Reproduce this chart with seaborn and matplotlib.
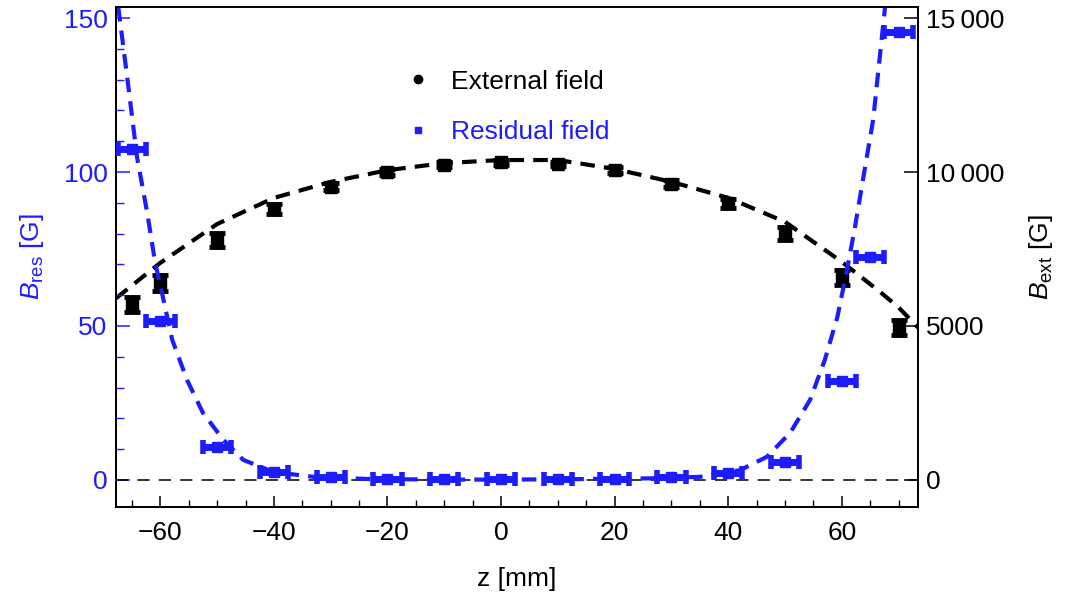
import numpy as np
import pandas as pd
import matplotlib
matplotlib.use("Agg")
import matplotlib.pyplot as plt
from matplotlib.lines import Line2D
from matplotlib.ticker import MultipleLocator, FixedLocator, FuncFormatter
import seaborn as sns

# ---------------- data ----------------
z_ext = [-65, -60, -50, -40, -30, -20, -10, 0, 10, 20, 30, 40, 50, 60, 70]
b_ext = [5700, 6400, 7790, 8800, 9520, 10000, 10230, 10320, 10260, 10060, 9620, 8990, 8000, 6580, 4960]
b_ext_err = [250, 250, 220, 150, 120, 100, 80, 80, 80, 100, 120, 150, 220, 250, 250]

z_res = [-65, -60, -50, -40, -30, -20, -10, 0, 10, 20, 30, 40, 50, 60, 65, 70]
b_res = [107.5, 51.5, 10.7, 2.6, 1.0, 0.3, 0.2, 0.2, 0.2, 0.3, 0.8, 2.2, 5.8, 32.0, 72.5, 145.5]
z_res_err = [2.5] * len(z_res)

# fitted curves
zf_ext = [-67.8, -60, -50, -40, -30, -20, -10, 0, 10, 20, 30, 40, 50, 60, 66.7, 70, 73.4]
bf_ext = [5900, 7050, 8310, 9160, 9680, 10060, 10290, 10390, 10390, 10100, 9680, 9160, 8380, 7080, 6110, 5600, 4950]

zf_res = [-67.4, -65.7, -64.1, -62.3, -60.9, -59.7, -57.9, -55.3, -52.5, -48.9, -45.4,
          -40.1, -33.1, -23.6, -10, 0, 10, 26.2, 35.0, 42.1, 46.8, 50.9, 54.4, 57.0,
          59.2, 60.9, 62.3, 63.7, 65.5, 67.6]
bf_res = [153.6, 128.9, 104.9, 86.7, 70.5, 60.7, 45.5, 32.5, 21.8, 13.0, 6.5,
          2.6, 1.0, 0.3, 0.1, 0.1, 0.2, 0.5, 1.0, 3.2, 7.5, 15.3, 26.0, 39.0,
          52.9, 68.2, 82.1, 97.4, 116.9, 153.6]

res_ticks = [0, 50, 100, 150]
ext_ticks = [0, 5000, 10000, 15000]
x_ticks = [-60, -40, -20, 0, 20, 40, 60]

# ---------------- style ----------------
sns.set_style("ticks")
plt.rcParams['font.family'] = ['Liberation Sans', 'DejaVu Sans']
plt.rcParams['mathtext.fontset'] = 'custom'
plt.rcParams['mathtext.rm'] = 'Liberation Sans'
plt.rcParams['mathtext.it'] = 'Liberation Sans:italic'
plt.rcParams['axes.linewidth'] = 1.3
plt.rcParams['axes.edgecolor'] = 'black'
plt.rcParams['text.color'] = 'black'
plt.rcParams['axes.labelcolor'] = 'black'
plt.rcParams['xtick.color'] = 'black'
plt.rcParams['ytick.color'] = 'black'

BLUE = '#1c1cff'
FS = 19

fig = plt.figure(figsize=(10.65, 5.97), dpi=100)
ax = fig.add_axes([116 / 1065, 1 - 507 / 597, (918 - 116) / 1065, (507 - 7) / 597])
ax2 = ax.twinx()   # residual field on top, ticks moved to the left

df_ext = pd.DataFrame({"z": z_ext, "B": b_ext, "err": b_ext_err})
df_res = pd.DataFrame({"z": z_res, "B": b_res, "err": z_res_err})
df_fe = pd.DataFrame({"z": zf_ext, "B": bf_ext})
df_fr = pd.DataFrame({"z": zf_res, "B": bf_res})

# external field (ax, right-hand scale)
sns.lineplot(data=df_fe, x="z", y="B", ax=ax, color='black', lw=3.0,
             legend=False, sort=False, zorder=2)
ax.lines[-1].set_dashes((3.5, 2.2))
ax.errorbar(df_ext["z"], df_ext["B"], yerr=df_ext["err"], fmt='s', color='black',
            ms=9, elinewidth=3.5, capsize=6, capthick=3.5, zorder=3)

# residual field (ax2, left-hand scale)
ax2.axhline(0, color='black', lw=1.1, dashes=(8, 6), zorder=1)
sns.lineplot(data=df_fr, x="z", y="B", ax=ax2, color=BLUE, lw=3.0,
             legend=False, sort=False, zorder=2)
ax2.lines[-1].set_dashes((3.5, 2.2))
ax2.errorbar(df_res["z"], df_res["B"], xerr=df_res["err"], fmt='s', color=BLUE,
             ms=7, elinewidth=5, capsize=4.8, capthick=4, zorder=3)

# limits
ax.set_xlim(-67.8, 73.4)
ax2.set_ylim(-8.8, 153.6)
ax.set_ylim(-880, 15360)

# move axes sides: ax -> right, ax2 -> left
ax.yaxis.tick_right()
ax.yaxis.set_label_position('right')
ax2.yaxis.tick_left()
ax2.yaxis.set_label_position('left')

# ticks
ax.xaxis.set_major_locator(FixedLocator(x_ticks))
ax.xaxis.set_minor_locator(MultipleLocator(5))
ax.set_xticklabels(['\u2212' + str(abs(t)) if t < 0 else str(t) for t in x_ticks])
ax.tick_params(axis='x', which='major', direction='in', length=8, width=1.1,
               labelsize=FS, pad=10, top=False, colors='black')
ax.tick_params(axis='x', which='minor', direction='in', length=5, width=1.0, top=False,
               colors='black')

ax.yaxis.set_major_locator(FixedLocator(ext_ticks))
ax.yaxis.set_major_formatter(FuncFormatter(
    lambda v, p: (f"{int(v):,}".replace(',', '\u2009') if v >= 10000 else f"{int(v)}")))
ax.tick_params(axis='y', which='major', direction='in', length=10, width=1.1,
               labelsize=FS, pad=6, left=False, right=True, colors='black')
ax.tick_params(axis='y', which='minor', left=False, right=False)

ax2.yaxis.set_major_locator(FixedLocator(res_ticks))
ax2.yaxis.set_minor_locator(MultipleLocator(10))
ax2.tick_params(axis='y', which='major', direction='in', length=10, width=1.1,
                labelsize=FS, pad=6, left=True, right=False, colors=BLUE)
ax2.tick_params(axis='y', which='minor', direction='in', length=6, width=1.0,
                left=True, right=False, colors=BLUE)
for sp in ax2.spines.values():
    sp.set_color('black')
    sp.set_linewidth(1.3)

# labels
ax.set_xlabel('z [mm]', fontsize=FS, labelpad=16)
ax.set_ylabel(r'$B_{\mathrm{ext}}$ [G]', fontsize=FS, labelpad=16, rotation=90)
ax2.set_ylabel(r'$B_{\mathrm{res}}$ [G]', fontsize=FS, color=BLUE, labelpad=13)

# legend
handles = [Line2D([], [], ls='none', marker='o', color='black', ms=6),
           Line2D([], [], ls='none', marker='s', color=BLUE, ms=5)]
leg = ax2.legend(handles, ['External field', 'Residual field'], frameon=False,
                 fontsize=FS, loc='upper left', bbox_to_anchor=(0.349, 0.896),
                 handletextpad=0.8, labelspacing=1.0, handlelength=0.9,
                 borderaxespad=0.0)
leg.get_texts()[0].set_color('black')
leg.get_texts()[1].set_color(BLUE)

fig.savefig('out.png', dpi=100)
